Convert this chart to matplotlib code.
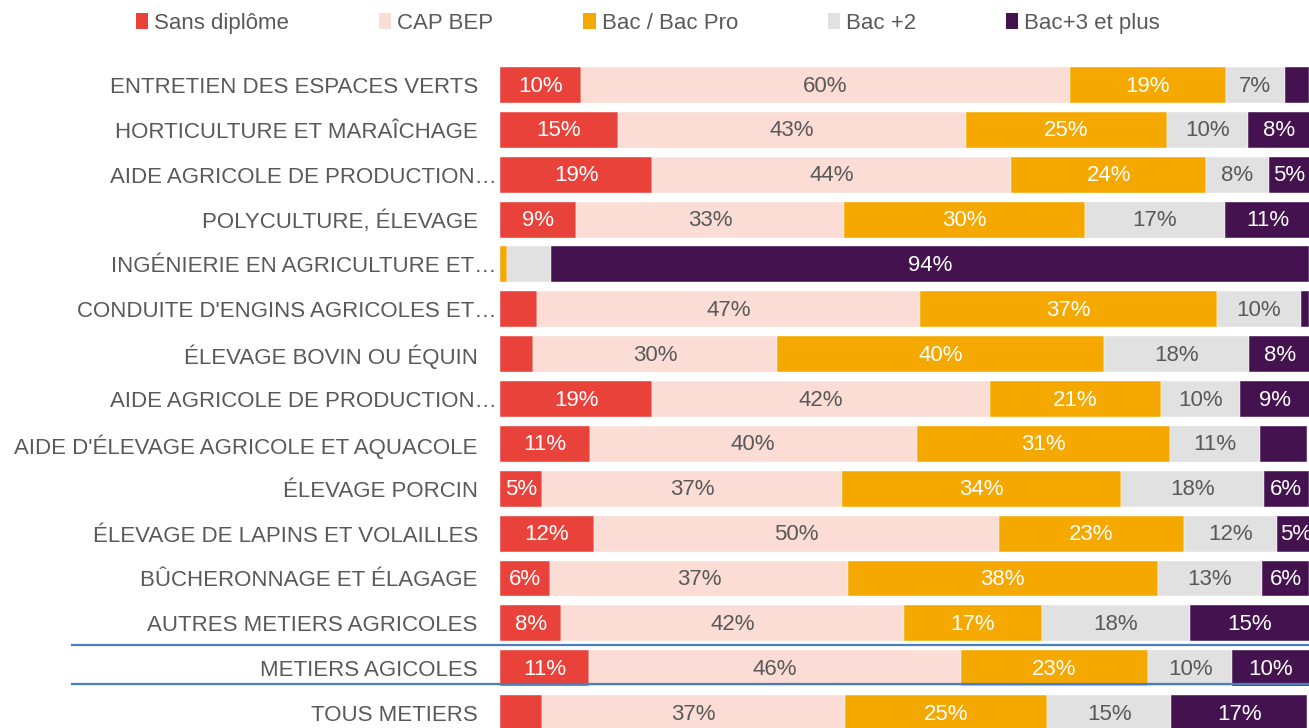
import matplotlib
matplotlib.use("Agg")
import matplotlib.pyplot as plt
from matplotlib.patches import Patch
from matplotlib.transforms import ScaledTranslation

plt.rcParams['font.family'] = ['Liberation Sans', 'DejaVu Sans']

categories = [
    "ENTRETIEN DES ESPACES VERTS",
    "HORTICULTURE ET MARAÎCHAGE",
    "AIDE AGRICOLE DE PRODUCTION…",
    "POLYCULTURE, ÉLEVAGE",
    "INGÉNIERIE EN AGRICULTURE ET…",
    "CONDUITE D'ENGINS AGRICOLES ET…",
    "ÉLEVAGE BOVIN OU ÉQUIN",
    "AIDE AGRICOLE DE PRODUCTION…",
    "AIDE D'ÉLEVAGE AGRICOLE ET AQUACOLE",
    "ÉLEVAGE PORCIN",
    "ÉLEVAGE DE LAPINS ET VOLAILLES",
    "BÛCHERONNAGE ET ÉLAGAGE",
    "AUTRES METIERS AGRICOLES",
    "METIERS AGICOLES",
    "TOUS METIERS",
]
series_names = ["Sans diplôme", "CAP BEP", "Bac / Bac Pro", "Bac +2", "Bac+3 et plus"]

sans_diplome = [10.0, 14.6, 18.8, 9.4, 0.0, 4.6, 4.1, 18.8, 11.1, 5.2, 11.6, 6.2, 7.6, 11.0, 5.2]
cap_bep      = [60.4, 43.0, 44.4, 33.1, 0.0, 47.3, 30.2, 41.8, 40.4, 37.1, 50.1, 36.8, 42.3, 46.0, 37.4]
bac          = [19.3, 24.8, 24.1, 29.8, 0.9, 36.7, 40.4, 21.1, 31.3, 34.4, 22.8, 38.3, 17.1, 23.1, 25.0]
bac2         = [7.3, 10.1, 7.7, 17.3, 5.4, 10.4, 17.9, 9.8, 11.2, 17.7, 11.6, 12.9, 18.3, 10.4, 15.4]
bac3         = [3.0, 7.6, 5.1, 10.6, 93.7, 1.0, 7.6, 8.6, 5.8, 5.6, 4.6, 5.8, 14.8, 9.6, 16.8]

# (row, series) cells whose value label is not shown in the reference
hidden_labels = {(0, 4), (4, 0), (4, 1), (4, 2), (4, 3), (5, 0), (5, 4), (6, 0), (8, 4), (14, 0)}

colors = ["#E8423B", "#FBDDD5", "#F5A800", "#E1E1E1", "#451250"]
label_colors = ["white", "#595959", "white", "#595959", "white"]
text_gray = "#595959"
fs = 16

W, H = 1309, 728
fig = plt.figure(figsize=(W / 100, H / 100), dpi=100)
ax = fig.add_axes([500 / W, 0, 809 / W, (728 - 45) / H])

data = [sans_diplome, cap_bep, bac, bac2, bac3]
n = len(categories)
ys = list(range(n))
left = [0.0] * n
down = ScaledTranslation(0, -1 / 100, fig.dpi_scale_trans)
for s, vals in enumerate(data):
    ax.barh(ys, vals, left=left, height=0.8, color=colors[s],
            edgecolor="white", linewidth=0.3, label=series_names[s])
    for i, (v, l) in enumerate(zip(vals, left)):
        if (i, s) in hidden_labels:
            continue
        ax.text(l + v / 2, i, f"{round(v)}%", ha="center", va="center",
                fontsize=fs, color=label_colors[s], clip_on=True,
                transform=ax.transData + down)
    left = [a + b for a, b in zip(left, vals)]

ax.set_xlim(0, 100)
ax.set_ylim(14.334, -0.892)
ax.set_yticks(ys)
ax.set_yticklabels(categories, fontsize=fs, color=text_gray)
ax.tick_params(axis="y", length=0, pad=16)
ax.set_xticks([])
for sp in ax.spines.values():
    sp.set_visible(False)

# truncated labels overhang toward the bars in the reference
shift = ScaledTranslation(19 / 100, 0, fig.dpi_scale_trans)
for lab in ax.get_yticklabels():
    if lab.get_text().endswith("…"):
        lab.set_transform(lab.get_transform() + shift)

# separators around the "METIERS AGICOLES" row
for yline in (12.48, 13.36):
    ax.axhline(yline, xmin=(72 - 500) / 809, xmax=1.0, color="#4A7EC2",
               linewidth=1.6, clip_on=False)

handles = [Patch(facecolor=c, edgecolor="none") for c in colors]
leg = fig.legend(handles, series_names, loc="center left",
                 bbox_to_anchor=(136 / W, 1 - 23.5 / H), ncol=5, frameon=False,
                 fontsize=fs, handlelength=0.55, handleheight=0.75,
                 handletextpad=0.27, columnspacing=4.05, borderaxespad=0,
                 borderpad=0)
for t in leg.get_texts():
    t.set_color(text_gray)

fig.savefig("out.png", dpi=100)
